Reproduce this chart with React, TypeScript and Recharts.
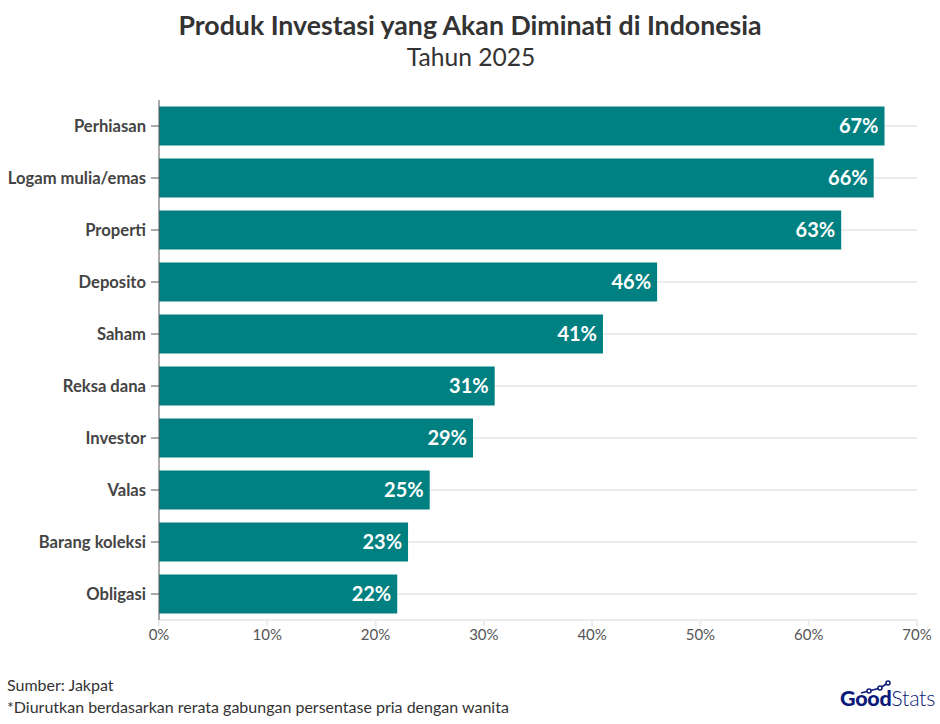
import { BarChart, Bar, XAxis, YAxis, CartesianGrid, LabelList } from "recharts";

const CATEGORIES = [
  "Perhiasan",
  "Logam mulia/emas",
  "Properti",
  "Deposito",
  "Saham",
  "Reksa dana",
  "Investor",
  "Valas",
  "Barang koleksi",
  "Obligasi",
];
const VALUES = [67, 66, 63, 46, 41, 31, 29, 25, 23, 22];
const X_TICKS = [0, 10, 20, 30, 40, 50, 60, 70];

const BAR_COLOR = "#008080";
const FONT = "Lato, 'Noto Sans', sans-serif";

const data = CATEGORIES.map((name, i) => ({ name, value: VALUES[i] }));

const textAt = (x: number, y: number, size: number, color: string, weight = 400) => ({
  position: "absolute" as const,
  left: x,
  top: y,
  fontSize: size,
  color,
  fontWeight: weight,
  lineHeight: 1,
  whiteSpace: "nowrap" as const,
});

export default function App() {
  return (
    <div style={{ position: "absolute", left: 0, top: 0, width: 940, height: 724, background: "#fff", fontFamily: FONT, overflow: "hidden" }}>
      <div style={{ ...textAt(0, 12, 26.7, "#333", 700), width: 940, textAlign: "center" }}>
        Produk Investasi yang Akan Diminati di Indonesia
      </div>
      <div style={{ ...textAt(1, 45, 24.6, "#333"), width: 940, textAlign: "center" }}>Tahun 2025</div>

      <div style={{ position: "absolute", left: 0, top: 0 }}>
        <BarChart
          width={940}
          height={660}
          data={data}
          layout="vertical"
          margin={{ top: 100, right: 23, bottom: 0, left: 0 }}
          barCategoryGap={6.5}
        >
          <CartesianGrid vertical={false} syncWithTicks stroke="#ececec" strokeWidth={2} />
          <XAxis
            type="number"
            domain={[0, 70]}
            ticks={X_TICKS}
            interval={0}
            tickFormatter={(v: number) => `${v}%`}
            axisLine={{ stroke: "#ececec", strokeWidth: 2 }}
            tickLine={{ stroke: "#ececec", strokeWidth: 2 }}
            tickSize={6}
            tickMargin={3}
            tick={{ fontSize: 15, fill: "#555" }}
            height={40}
          />
          <YAxis
            type="category"
            dataKey="name"
            width={159}
            interval={0}
            axisLine={{ stroke: "#555", strokeWidth: 1 }}
            tickLine={{ stroke: "#555", strokeWidth: 1 }}
            tickSize={8}
            tickMargin={5}
            tick={{ fontSize: 16.6, fontWeight: 700, fill: "#444" }}
          />
          <Bar dataKey="value" fill={BAR_COLOR} isAnimationActive={false}>
            <LabelList
              dataKey="value"
              position="insideRight"
              offset={6}
              formatter={(v: number) => `${v}%`}
              style={{ fontSize: 20, fontWeight: 700, fill: "#fff" }}
            />
          </Bar>
        </BarChart>
      </div>

      <div style={textAt(7, 677, 16, "#333")}>Sumber: Jakpat</div>
      <div style={textAt(7, 699, 16, "#333")}>*Diurutkan berdasarkan rerata gabungan persentase pria dengan wanita</div>

      {/* logo */}
      <div style={{ ...textAt(840, 688, 21.5, "#0b1a78"), letterSpacing: -0.3 }}>
        <span style={{ fontWeight: 900 }}>Good</span>
        <span style={{ fontWeight: 300 }}>Stats</span>
      </div>
      <svg width={40} height={24} style={{ position: "absolute", left: 860, top: 678 }} fill="none" stroke="#0b1a78" strokeWidth={1.5}>
        <polyline points="1,15 9,13 20,10 28,5" />
        <circle cx={9} cy={13} r={2} fill="#fff" />
        <circle cx={20} cy={10} r={2} fill="#fff" />
        <circle cx={28} cy={5} r={2} fill="#fff" />
      </svg>
    </div>
  );
}
